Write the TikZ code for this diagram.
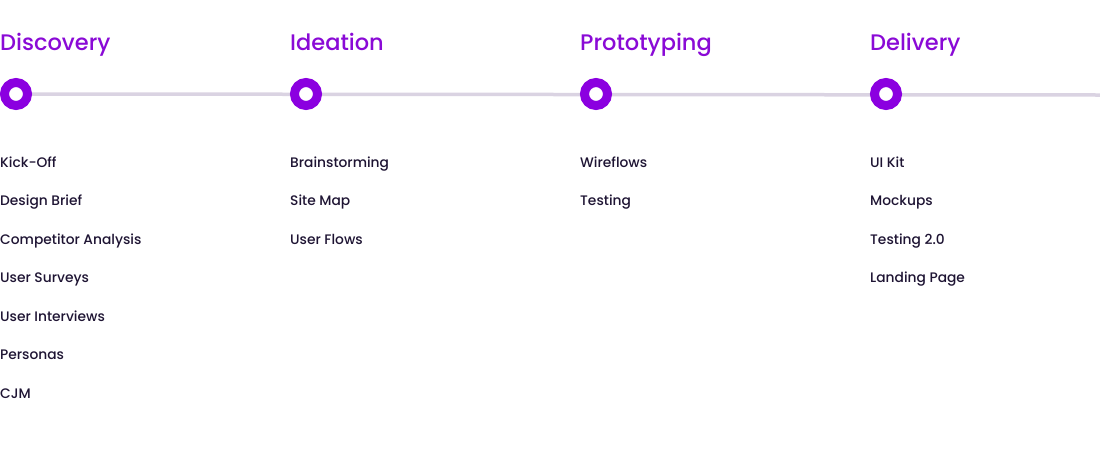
\documentclass[tikz,border=0pt]{standalone}
\usepackage{fontspec}
\setmainfont{Poppins}
\newfontfamily\headfont{Poppins Medium}
\newfontfamily\taskfont{Poppins Medium}
\usetikzlibrary{backgrounds}
\definecolor{phase}{RGB}{138,10,214}
\definecolor{dot}{RGB}{139,0,224}
\definecolor{track}{RGB}{218,211,226}
\definecolor{itemtext}{RGB}{30,20,51}
\tikzset{
  phasetitle/.style={anchor=base west, inner sep=0pt, text=phase, font=\headfont\fontsize{22.5}{26}\selectfont},
  milestone/.style={circle, draw=dot, fill=white, line width=9pt, minimum size=23pt, inner sep=0pt},
  task/.style={anchor=base west, inner sep=0pt, text=itemtext, font=\taskfont\fontsize{13.8}{16}\selectfont},
  trackline/.style={draw=track, line width=3.5pt}
}
\begin{document}
\begin{tikzpicture}[x=1pt, y=-1pt]
\useasboundingbox (0,0) rectangle (1100,464);

% phase headings
\node[phasetitle] (t1) at (0,50) {Discovery};
\node[phasetitle] (t2) at (290,50) {Ideation};
\node[phasetitle] (t3) at (580,50) {Prototyping};
\node[phasetitle] (t4) at (870,50) {Delivery};

% milestones on the timeline
\node[milestone] (m1) at (16,94) {};
\node[milestone] (m2) at (306,94) {};
\node[milestone] (m3) at (596,94) {};
\node[milestone] (m4) at (886,94) {};
\coordinate (trackend) at (1100,95);

\begin{pgfonlayer}{background}
  \draw[trackline] (m1.center) -- (trackend);
\end{pgfonlayer}

% Discovery tasks
\node[task] (d1) at (0,167) {Kick-Off};
\node[task] (d2) at (0,205.5) {Design Brief};
\node[task] (d3) at (0,244) {Competitor Analysis};
\node[task] (d4) at (0,282.5) {User Surveys};
\node[task] (d5) at (0,321) {User Interviews};
\node[task] (d6) at (0,359.5) {Personas};
\node[task] (d7) at (0,398) {CJM};

% Ideation tasks
\node[task] (i1) at (290,167) {Brainstorming};
\node[task] (i2) at (290,205.5) {Site Map};
\node[task] (i3) at (290,244) {User Flows};

% Prototyping tasks
\node[task] (p1) at (580,167) {Wireflows};
\node[task] (p2) at (580,205.5) {Testing};

% Delivery tasks
\node[task] (v1) at (870,167) {UI Kit};
\node[task] (v2) at (870,205.5) {Mockups};
\node[task] (v3) at (870,244) {Testing 2.0};
\node[task] (v4) at (870,282.5) {Landing Page};
\end{tikzpicture}
\end{document}
